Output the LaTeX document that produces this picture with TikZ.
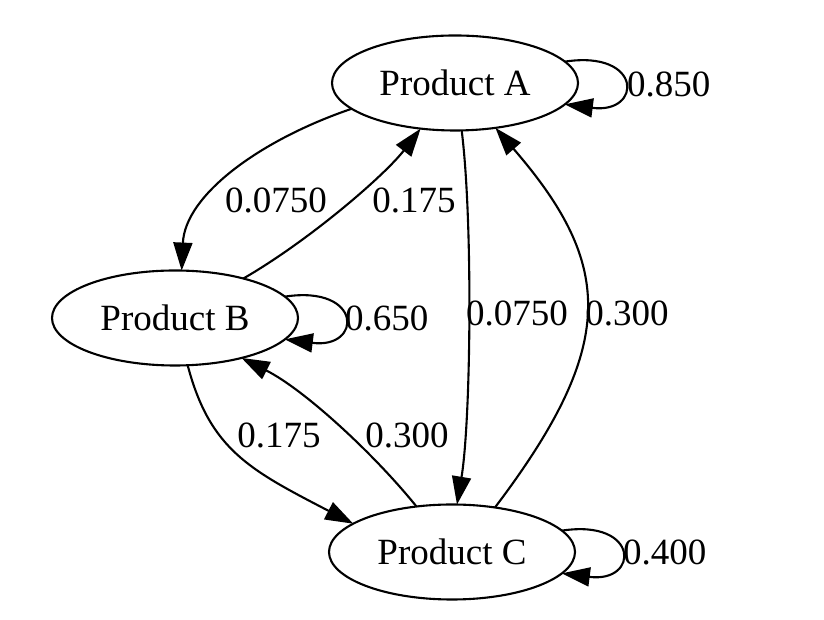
\documentclass[tikz,border=0pt]{standalone}
\usepackage{fontspec}
\setmainfont{Liberation Serif}
\usetikzlibrary{shapes,arrows.meta,positioning}

\begin{document}
\begin{tikzpicture}[x=1pt,y=1pt,
    state/.style={draw,ellipse,line width=2.1pt,minimum width=246pt,minimum height=95pt,inner sep=0pt,outer sep=0pt,font=\fontsize{37}{44}\selectfont},
    trans/.style={line width=2.1pt,-{Triangle[length=28pt,width=19pt]}},
    prob/.style={inner sep=0pt,font=\fontsize{37}{44}\selectfont}]
    \useasboundingbox (0,0) rectangle (824,620);

    \node[state] (prod_a) at (455,537) {Product A};
    \node[state] (prod_b) at (175,302) {Product B};
    \node[state] (prod_c) at (452,68) {Product C};

    % transitions between products
    \draw[trans] (prod_a.194) .. controls (260,480) and (185,425) .. (prod_b.82);
    \draw[trans] (prod_b.30) .. controls (310,380) and (385,445) .. (prod_a.233);
    \draw[trans] (prod_a.278) .. controls (473,400) and (471,200) .. (prod_c.84);
    \draw[trans] (prod_c.46) .. controls (618,275) and (614,355) .. (prod_a.312);
    \draw[trans] (prod_b.285) .. controls (210,170) and (250,150) .. (prod_c.164);
    \draw[trans] (prod_c.128) .. controls (375,165) and (305,230) .. (prod_b.329);

    % staying in the same product
    \draw[trans] (prod_a.11) .. controls +(78,12) and +(78,-10) .. (prod_a.-11);
    \draw[trans] (prod_b.11) .. controls +(78,12) and +(78,-10) .. (prod_b.-11);
    \draw[trans] (prod_c.11) .. controls +(78,12) and +(78,-10) .. (prod_c.-11);

    \node[prob] (p_ab) at (276,420) {0.0750};
    \node[prob] (p_ba) at (414,420) {0.175};
    \node[prob] (p_ac) at (517,307) {0.0750};
    \node[prob] (p_ca) at (627,307) {0.300};
    \node[prob] (p_bc) at (279,185) {0.175};
    \node[prob] (p_cb) at (407,185) {0.300};
    \node[prob,anchor=west] (p_aa) at (627,536) {0.850};
    \node[prob,anchor=west] (p_bb) at (345,302) {0.650};
    \node[prob,anchor=west] (p_cc) at (623,68) {0.400};
\end{tikzpicture}
\end{document}
